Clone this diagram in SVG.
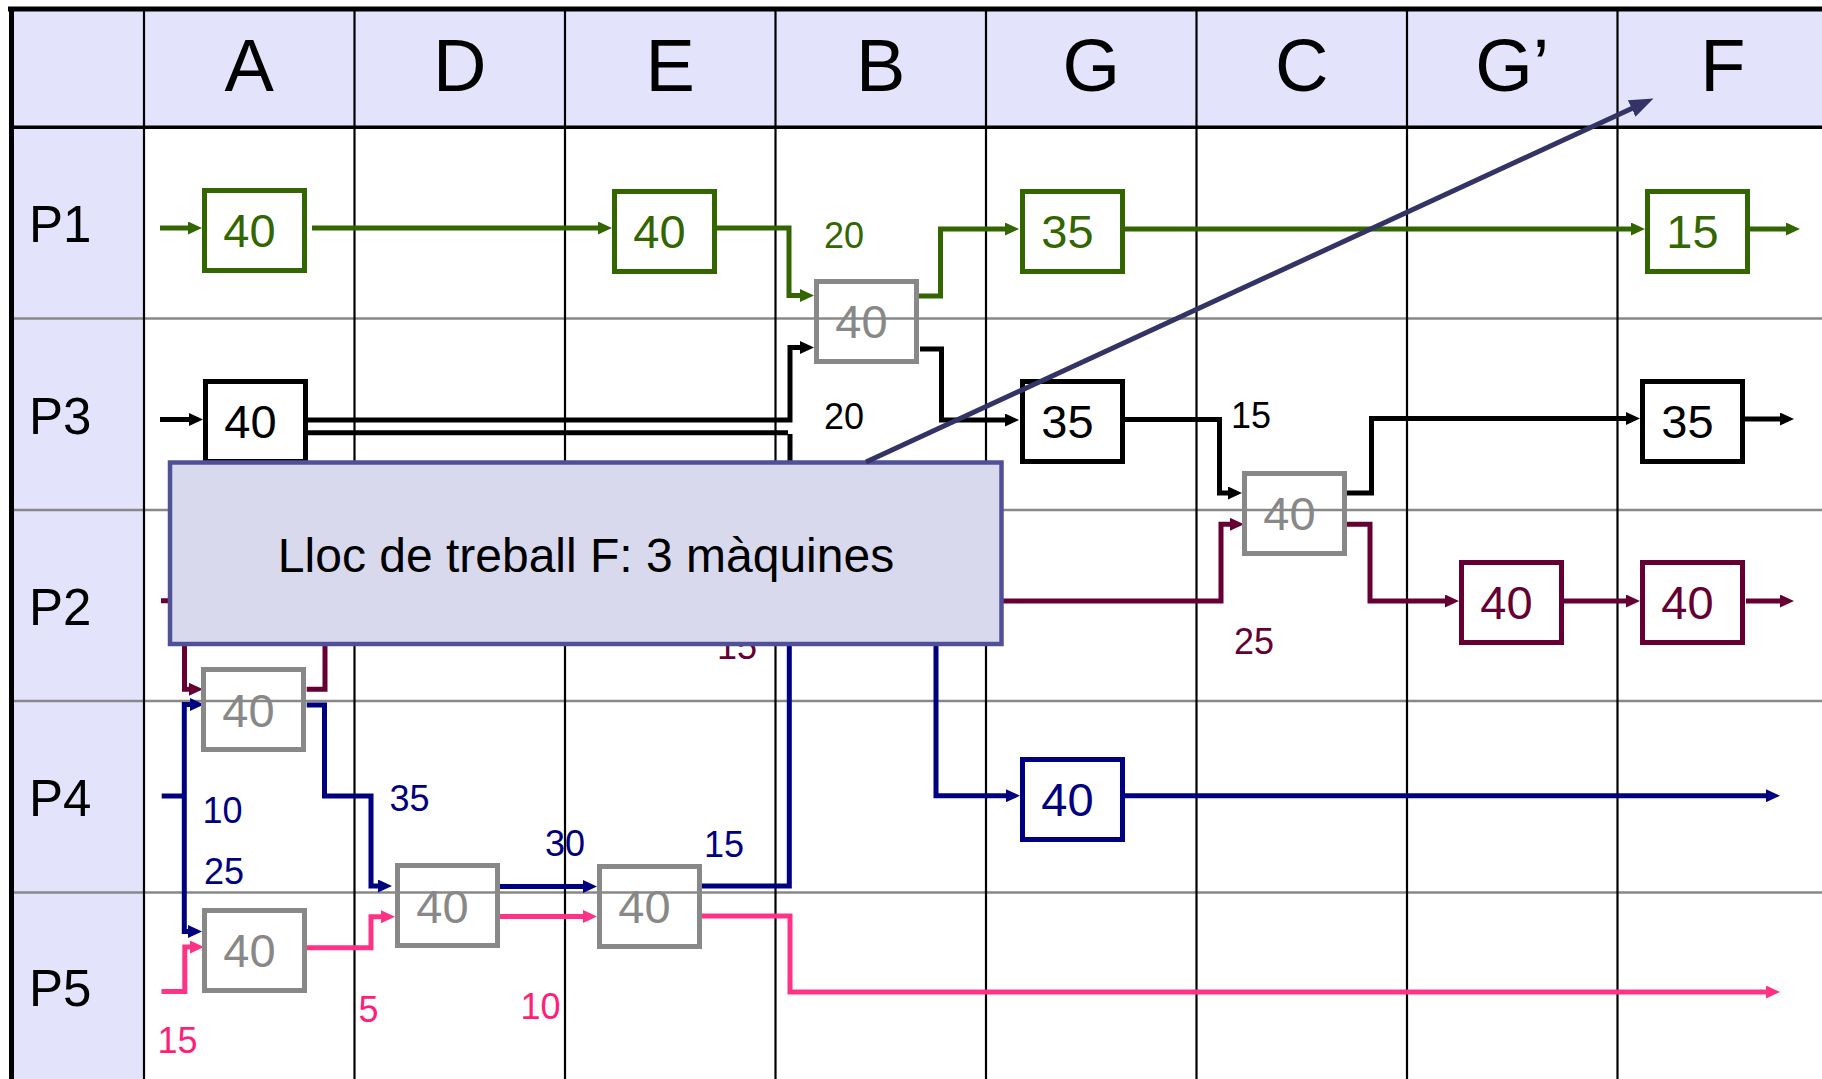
<svg xmlns="http://www.w3.org/2000/svg" width="1822" height="1079" viewBox="0 0 1822 1079">
<style>
text{font-family:"Liberation Sans",Arial,Helvetica,sans-serif}
.hdr{font-size:74px;text-anchor:middle;fill:#000}
.row{font-size:51px;fill:#000}
.num{font-size:47px;text-anchor:middle}
.lbl{font-size:36px}
.box{fill:none;stroke-width:5}
.vl{stroke:#000;stroke-width:2.2}
.hl{stroke:#888;stroke-width:2.5}
.c{fill:none;stroke-width:5}
.green{stroke:#336600}.t-green{fill:#336600}
.black{stroke:#000}.t-black{fill:#000}
.maroon{stroke:#660033}.t-maroon{fill:#660033}
.navy{stroke:#000080}.t-navy{fill:#000080}
.pink{stroke:#FF3385}.t-pink{fill:#FF1F7A}
.gray{stroke:#888}.t-gray{fill:#888}
</style>
<defs>
<marker id="m-green" viewBox="0 0 14 13" refX="4" refY="6.5" markerWidth="14" markerHeight="13" markerUnits="userSpaceOnUse" orient="auto"><path d="M0,0 L14,6.5 L0,13 z" fill="#336600"/></marker>
<marker id="m-black" viewBox="0 0 14 13" refX="4" refY="6.5" markerWidth="14" markerHeight="13" markerUnits="userSpaceOnUse" orient="auto"><path d="M0,0 L14,6.5 L0,13 z" fill="#000"/></marker>
<marker id="m-maroon" viewBox="0 0 14 13" refX="4" refY="6.5" markerWidth="14" markerHeight="13" markerUnits="userSpaceOnUse" orient="auto"><path d="M0,0 L14,6.5 L0,13 z" fill="#660033"/></marker>
<marker id="m-navy" viewBox="0 0 14 13" refX="4" refY="6.5" markerWidth="14" markerHeight="13" markerUnits="userSpaceOnUse" orient="auto"><path d="M0,0 L14,6.5 L0,13 z" fill="#000080"/></marker>
<marker id="m-pink" viewBox="0 0 14 13" refX="4" refY="6.5" markerWidth="14" markerHeight="13" markerUnits="userSpaceOnUse" orient="auto"><path d="M0,0 L14,6.5 L0,13 z" fill="#FF3385"/></marker>
<marker id="m-big" viewBox="0 0 24 18" refX="12" refY="9" markerWidth="24" markerHeight="18" markerUnits="userSpaceOnUse" orient="auto"><path d="M0,0 L24,9 L0,18 z" fill="#333366"/></marker>
</defs>

<!-- table -->
<g id="table">
<rect x="0" y="0" width="1822" height="1079" fill="#fff"/>
<rect x="11" y="9" width="1811" height="118" fill="#E3E3FB"/>
<rect x="11" y="127" width="133" height="952" fill="#E3E3FB"/>
<line class="hl" x1="11" y1="318.5" x2="1822" y2="318.5"/>
<line class="hl" x1="11" y1="510" x2="1822" y2="510"/>
<line class="hl" x1="11" y1="701" x2="1822" y2="701"/>
<line class="hl" x1="11" y1="892.5" x2="1822" y2="892.5"/>
<line class="vl" x1="144" y1="9" x2="144" y2="1079"/>
<line class="vl" x1="354.5" y1="9" x2="354.5" y2="1079"/>
<line class="vl" x1="565" y1="9" x2="565" y2="1079"/>
<line class="vl" x1="775.5" y1="9" x2="775.5" y2="1079"/>
<line class="vl" x1="986" y1="9" x2="986" y2="1079"/>
<line class="vl" x1="1196.5" y1="9" x2="1196.5" y2="1079"/>
<line class="vl" x1="1407" y1="9" x2="1407" y2="1079"/>
<line class="vl" x1="1617.5" y1="9" x2="1617.5" y2="1079"/>
<line x1="9" y1="127.3" x2="1822" y2="127.3" stroke="#000" stroke-width="3.5"/>
<line x1="8" y1="9" x2="1822" y2="9" stroke="#000" stroke-width="5"/>
<line x1="11.5" y1="7" x2="11.5" y2="1079" stroke="#000" stroke-width="5"/>
<text class="hdr" x="249.3" y="91">A</text>
<text class="hdr" x="459.8" y="91">D</text>
<text class="hdr" x="670.3" y="91">E</text>
<text class="hdr" x="880.8" y="91">B</text>
<text class="hdr" x="1091.3" y="91">G</text>
<text class="hdr" x="1301.8" y="91">C</text>
<text class="hdr" x="1512.3" y="91">G’</text>
<text class="hdr" x="1722.8" y="91">F</text>
<text class="row" x="29" y="242">P1</text>
<text class="row" x="29" y="434">P3</text>
<text class="row" x="29" y="625">P2</text>
<text class="row" x="29" y="816">P4</text>
<text class="row" x="29" y="1006">P5</text>
</g>

<!-- connectors -->
<g id="connectors">
<path class="c green" d="M160,228 H192" marker-end="url(#m-green)"/>
<path class="c green" d="M312,228 H602" marker-end="url(#m-green)"/>
<path class="c green" d="M716,228 H789 V295.5 H804" marker-end="url(#m-green)"/>
<path class="c green" d="M918,296 H940.5 V229 H1009" marker-end="url(#m-green)"/>
<path class="c green" d="M1124,229 H1635" marker-end="url(#m-green)"/>
<path class="c green" d="M1750,229 H1790" marker-end="url(#m-green)"/>

<path class="c black" d="M160,419.5 H193" marker-end="url(#m-black)"/>
<path class="c black" d="M307,420 H790 V347.5 H804" marker-end="url(#m-black)"/>
<path class="c black" d="M307,432.7 H788" stroke-width="4"/>
<path class="c black" d="M790,434 V475"/>
<path class="c black" d="M920,349 H941.5 V420 H1009" marker-end="url(#m-black)"/>
<path class="c black" d="M1124,419.5 H1219.5 V493 H1232" marker-end="url(#m-black)"/>
<path class="c black" d="M1347,493 H1371.5 V418.5 H1630" marker-end="url(#m-black)"/>
<path class="c black" d="M1745,419 H1784" marker-end="url(#m-black)"/>

<path class="c maroon" d="M161,600.7 H184.5 V689.3 H193" marker-end="url(#m-maroon)"/>
<path class="c maroon" d="M306.7,689.3 H325 V601 H1221 V524.3 H1234" marker-end="url(#m-maroon)"/>
<path class="c maroon" d="M1347,524.3 H1370 V601 H1449" marker-end="url(#m-maroon)"/>
<path class="c maroon" d="M1564,601 H1630" marker-end="url(#m-maroon)"/>
<path class="c maroon" d="M1746,601 H1784" marker-end="url(#m-maroon)"/>

<path class="c navy" d="M161.7,796 H184.3"/>
<path class="c navy" d="M184.3,796 V704.5 H194" marker-end="url(#m-navy)"/>
<path class="c navy" d="M184.3,796 V931.5 H192" marker-end="url(#m-navy)"/>
<path class="c navy" d="M306.7,705 H324.5 V796 H371 V886 H382" marker-end="url(#m-navy)"/>
<path class="c navy" d="M499,886.5 H587" marker-end="url(#m-navy)"/>
<path class="c navy" d="M700,886 H789.3 V600"/>
<path class="c navy" d="M936,600 V795.7 H1010" marker-end="url(#m-navy)"/>
<path class="c navy" d="M1124,795.7 H1770" marker-end="url(#m-navy)"/>

<path class="c pink" d="M161.5,991.4 H184.8 V947 H194" marker-end="url(#m-pink)"/>
<path class="c pink" d="M306.7,947.7 H371 V916.7 H385" marker-end="url(#m-pink)"/>
<path class="c pink" d="M499,916.4 H587" marker-end="url(#m-pink)"/>
<path class="c pink" d="M700,916 H790 V992 H1770" marker-end="url(#m-pink)"/>
</g>

<!-- connector labels -->
<g id="labels" class="lbl">
<text class="t-green" x="824" y="248">20</text>
<text class="t-black" x="824" y="429">20</text>
<text class="t-black" x="1231" y="427.5">15</text>
<text class="t-maroon" x="1234" y="653.5">25</text>
<text class="t-maroon" x="717" y="659">15</text>
<text class="t-navy" x="202.5" y="822.5">10</text>
<text class="t-navy" x="204" y="883.5">25</text>
<text class="t-navy" x="389.5" y="811">35</text>
<text class="t-navy" x="545" y="856">30</text>
<text class="t-navy" x="704" y="856.5">15</text>
<text class="t-pink" x="157.5" y="1053">15</text>
<text class="t-pink" x="358.5" y="1022">5</text>
<text class="t-pink" x="520.5" y="1019">10</text>
</g>

<!-- nodes -->
<g id="p1-a"><rect class="box green" x="204.5" y="190.5" width="100" height="80"/><text class="num t-green" x="249.5" y="247">40</text></g>
<g id="p1-e"><rect class="box green" x="614.5" y="191.5" width="100" height="80"/><text class="num t-green" x="659.5" y="248">40</text></g>
<g id="b-shared"><rect class="box gray" x="816.5" y="281.5" width="100" height="80"/><text class="num t-gray" x="861.5" y="338">40</text></g>
<g id="p1-g"><rect class="box green" x="1022.5" y="191.5" width="100" height="80"/><text class="num t-green" x="1067.5" y="248">35</text></g>
<g id="p1-f"><rect class="box green" x="1647.5" y="191.5" width="100" height="80"/><text class="num t-green" x="1692.5" y="248">15</text></g>

<g id="p3-a"><rect class="box black" x="205.5" y="381.5" width="100" height="80"/><text class="num t-black" x="250.5" y="438">40</text></g>
<g id="p3-g"><rect class="box black" x="1022.5" y="381.5" width="100" height="80"/><text class="num t-black" x="1067.5" y="438">35</text></g>
<g id="c-shared"><rect class="box gray" x="1244.5" y="473.5" width="100" height="80"/><text class="num t-gray" x="1289.5" y="530">40</text></g>
<g id="p3-f"><rect class="box black" x="1642.5" y="381.5" width="100" height="80"/><text class="num t-black" x="1687.5" y="438">35</text></g>

<g id="a-shared"><rect class="box gray" x="203.5" y="669.5" width="100" height="80"/><text class="num t-gray" x="248.5" y="726.5">40</text></g>
<g id="p2-g2"><rect class="box maroon" x="1461.5" y="562.5" width="100" height="80"/><text class="num t-maroon" x="1506.5" y="619">40</text></g>
<g id="p2-f"><rect class="box maroon" x="1642.5" y="562.5" width="100" height="80"/><text class="num t-maroon" x="1687.5" y="619">40</text></g>

<g id="d-shared"><rect class="box gray" x="397.5" y="865.5" width="100" height="80"/><text class="num t-gray" x="442.5" y="922.5">40</text></g>
<g id="e-shared"><rect class="box gray" x="599.5" y="866.5" width="100" height="80"/><text class="num t-gray" x="644.5" y="923">40</text></g>
<g id="p4-g"><rect class="box navy" x="1022.5" y="759.5" width="100" height="80"/><text class="num t-navy" x="1067.5" y="816">40</text></g>

<g id="p5-a"><rect class="box gray" x="204.5" y="910.5" width="100" height="80"/><text class="num t-gray" x="249.5" y="967">40</text></g>

<!-- callout -->
<g id="callout">
<rect x="170" y="462.5" width="831.5" height="181.5" fill="#D9D9EE" stroke="#505099" stroke-width="4.5"/>
<text x="586" y="572" font-size="48" text-anchor="middle" fill="#000">Lloc de treball F: 3 màquines</text>
<path d="M866,462 L1642.6,103.5" fill="none" stroke="#333366" stroke-width="5" marker-end="url(#m-big)"/>
</g>
</svg>
